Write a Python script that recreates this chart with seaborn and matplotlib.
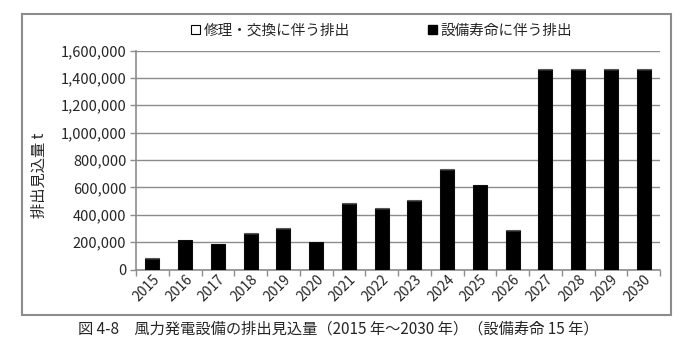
import matplotlib
matplotlib.use("Agg")
import matplotlib.pyplot as plt
from matplotlib.patches import Patch, Rectangle
from matplotlib.ticker import FuncFormatter, FixedLocator
import seaborn as sns
import pandas as pd

years = [str(y) for y in range(2015, 2031)]
lifespan = [78000, 212000, 183000, 260000, 296000, 198000, 480000, 443000,
            503000, 728000, 615000, 278000, 1455000, 1455000, 1455000, 1455000]
repair = [4000, 5000, 5000, 5000, 5000, 5000, 6000, 8000,
          6000, 6000, 6000, 8000, 10000, 10000, 10000, 10000]
legend_labels = ["□修理・交換に伴う排出", "■設備寿命に伴う排出"]
ylabel = "排出見込量 t"
caption = "図 4-8　風力発電設備の排出見込量（2015 年～2030 年）（設備寿命 15 年）"

sns.set_theme(style="white")
plt.rcParams['font.family'] = ['Noto Sans CJK JP', 'DejaVu Sans']

df = pd.DataFrame({"year": years, "lifespan": lifespan, "repair": repair})
df["total"] = df["lifespan"] + df["repair"]

fig = plt.figure(figsize=(6.83, 3.49), dpi=100)
ax = fig.add_axes([136/683, 1-269.5/349, (660-136)/683, (269.5-50.5)/349])

gray = "#8c8c8c"
sns.barplot(data=df, x="year", y="total", color="white", edgecolor="#555555",
            linewidth=0.8, width=0.43, ax=ax, saturation=1, zorder=3)
sns.barplot(data=df, x="year", y="lifespan", color="black", edgecolor="black",
            linewidth=0.5, width=0.43, ax=ax, saturation=1, zorder=4)

ax.set_ylim(0, 1600000)
ax.set_xlim(-0.5, len(years) - 0.5)
ax.set_yticks(range(0, 1600001, 200000))
ax.yaxis.set_major_formatter(FuncFormatter(lambda v, p: f"{int(v):,}"))
ax.grid(axis="y", color=gray, linewidth=1.0, zorder=0)
ax.set_axisbelow(True)

for s in ["top", "right"]:
    ax.spines[s].set_visible(False)
for s in ["left", "bottom"]:
    ax.spines[s].set_color(gray)
    ax.spines[s].set_linewidth(1.2)

ax.tick_params(axis="y", which="major", length=4, color=gray, width=1,
               labelsize=10.5, pad=3, left=True, direction="out")
ax.tick_params(axis="x", which="major", length=0, labelsize=10, pad=2)
ax.xaxis.set_minor_locator(FixedLocator([i - 0.5 for i in range(len(years) + 1)]))
ax.tick_params(axis="x", which="minor", length=4, color=gray, width=1,
               bottom=True, direction="out")
for lab in ax.get_xticklabels():
    lab.set_rotation(45)
    lab.set_ha("right")
    lab.set_rotation_mode("anchor")

ax.set_xlabel("")
ax.set_ylabel(ylabel, fontsize=11)
ax.yaxis.set_label_coords(-0.168, 0.43)

handles = [Patch(facecolor="white", edgecolor="black", linewidth=0.8),
           Patch(facecolor="black", edgecolor="black")]
fig.legend(handles, [l[1:] for l in legend_labels], loc="center left",
           bbox_to_anchor=(191/683, 1-31/349), ncol=2, frameon=False,
           fontsize=10.5, handlelength=0.6, handleheight=0.6, handletextpad=0.25,
           columnspacing=5.4, borderaxespad=0, borderpad=0)

fig.patches.append(Rectangle((22/683, 1-315/349), 649/683, 301/349,
                             transform=fig.transFigure, fill=False,
                             edgecolor=gray, linewidth=1.5))

fig.text(78/683, 1-329/349, caption, fontsize=11, ha="left", va="center")

fig.savefig("out.png", dpi=100, facecolor="white")
